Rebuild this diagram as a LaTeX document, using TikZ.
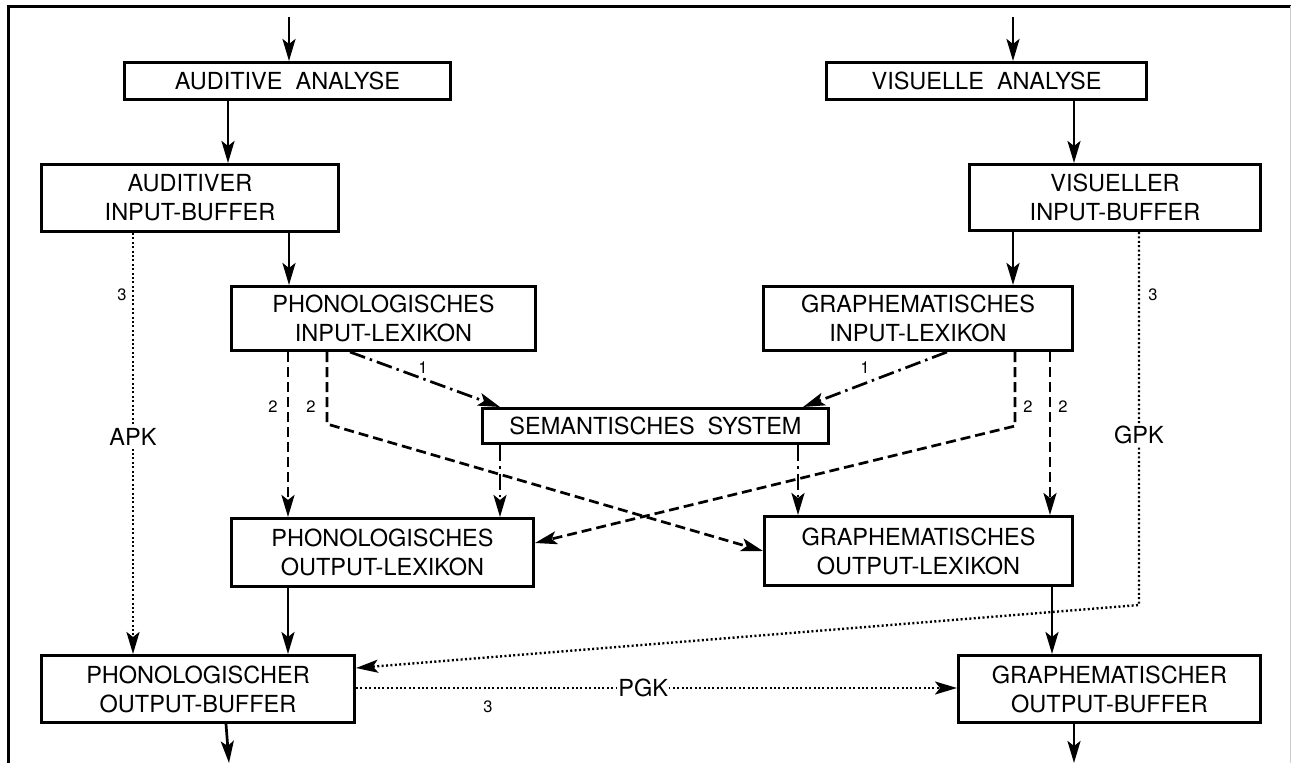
\documentclass[tikz,border=0pt]{standalone}
\usepackage{fontspec}
\setmainfont{TeX Gyre Heros}
\usetikzlibrary{arrows.meta}
\begin{document}
\begin{tikzpicture}[x=1pt,y=-1pt,
  box/.style={draw, line width=3pt, inner sep=0pt, align=center, font=\fontsize{23.5}{29}\selectfont},
  tip/.style={-{Stealth[length=22pt,width=13pt,inset=5pt]}},
  arr/.style={line width=2.7pt, tip},
  dsh/.style={line width=2.7pt, dash pattern=on 10pt off 5pt, tip},
  dd/.style={line width=2.7pt, dash pattern=on 16pt off 5pt on 2.5pt off 5pt, tip},
  dot/.style={line width=2.4pt, dash pattern=on 2pt off 2.4pt, tip},
  lbl/.style={inner sep=0pt, font=\fontsize{16.5}{19}\selectfont},
  klbl/.style={fill=white, inner sep=2pt, font=\fontsize{23.5}{28}\selectfont}
]
\useasboundingbox (0,0) rectangle (1291,763);
\fill[white] (0,0) rectangle (1291,763);
% frame
\draw[line width=3pt] (8,763) -- (8,6) -- (1291,6);
\draw[black!20, line width=1pt] (1290,6) -- (1290,763);

% boxes
\node[box, minimum width=326pt, minimum height=37pt] (aa) at (287.5,81) {AUDITIVE~~ANALYSE};
\node[box, minimum width=320pt, minimum height=37pt] (va) at (986.5,81) {VISUELLE~~ANALYSE};
\node[box, minimum width=297pt, minimum height=67pt] (aib) at (190,198) {AUDITIVER\\INPUT-BUFFER};
\node[box, minimum width=291pt, minimum height=66pt] (vib) at (1115,197.5) {VISUELLER\\INPUT-BUFFER};
\node[box, minimum width=304pt, minimum height=64pt] (pil) at (383.5,318.5) {PHONOLOGISCHES\\INPUT-LEXIKON};
\node[box, minimum width=309pt, minimum height=64pt] (gil) at (918,318.5) {GRAPHEMATISCHES\\INPUT-LEXIKON};
\node[box, minimum width=346pt, minimum height=35pt] (sem) at (655.5,426) {SEMANTISCHES~~SYSTEM};
\node[box, minimum width=302pt, minimum height=68pt] (pol) at (382.5,552.5) {PHONOLOGISCHES\\OUTPUT-LEXIKON};
\node[box, minimum width=308pt, minimum height=69pt] (gol) at (918.5,551) {GRAPHEMATISCHES\\OUTPUT-LEXIKON};
\node[box, minimum width=313pt, minimum height=67pt] (pob) at (198,689) {PHONOLOGISCHER\\OUTPUT-BUFFER};
\node[box, minimum width=302pt, minimum height=67pt] (gob) at (1109.5,689) {GRAPHEMATISCHER\\OUTPUT-BUFFER};

% solid arrows
\coordinate (inA) at (289,17);
\coordinate (inV) at (1013,17);
\coordinate (outP) at (229,763);
\coordinate (outG) at (1074,763);
\draw[arr] (inA) -- (inA |- aa.north);
\draw[arr] (inV) -- (inV |- va.north);
\draw[arr] (228,0 |- aa.south) -- (228,0 |- aib.north);
\draw[arr] (1074,0 |- va.south) -- (1074,0 |- vib.north);
\draw[arr] (289,0 |- aib.south) -- (289,0 |- pil.north);
\draw[arr] (1013,0 |- vib.south) -- (1013,0 |- gil.north);
\draw[arr] (288,0 |- pol.south) -- (288,0 |- pob.north);
\draw[arr] (1052,0 |- gol.south) -- (1052,0 |- gob.north);
\draw[arr] (226,0 |- pob.south) -- (outP);
\draw[arr] (1074,0 |- gob.south) -- (outG);

% dash-dot (1)
\draw[dd] (350,0 |- pil.south) -- (500,0 |- sem.north);
\draw[dd] (947,0 |- gil.south) -- (803,0 |- sem.north);
\draw[dd] (500,0 |- sem.south) -- (500,0 |- pol.north);
\draw[dd] (798,0 |- sem.south) -- (798,0 |- gol.north);
\node[lbl] (l1a) at (423,368) {1};
\node[lbl] (l1b) at (865,368) {1};

% dashed (2)
\draw[dsh] (288,0 |- pil.south) -- (288,0 |- pol.north);
\draw[dsh] (327,0 |- pil.south) -- (327,424) -- (gol.west);
\draw[dsh] (1015,0 |- gil.south) -- (1015,426) -- (pol.east |- 0,543);
\draw[dsh] (1050,0 |- gil.south) -- (1050,0 |- gol.north);
\node[lbl] (l2a) at (273,407) {2};
\node[lbl] (l2b) at (311,407) {2};
\node[lbl] (l2c) at (1028,407) {2};
\node[lbl] (l2d) at (1063,407) {2};

% dotted (3)
\draw[dot] (133,0 |- aib.south) -- node[klbl, pos=0.485] (apk) {APK} (133,0 |- pob.north);
\draw[dot] (1139,0 |- vib.south) -- node[klbl, pos=0.544] (gpk) {GPK} (1139,605) -- (pob.east |- 0,668);
\draw[dot] (pob.east |- 0,688) -- node[klbl, pos=0.478, inner sep=1pt] (pgk) {PGK} (gob.west |- 0,688);
\node[lbl] (l3a) at (122,295) {3};
\node[lbl] (l3b) at (1153,295) {3};
\node[lbl] (l3c) at (488,707) {3};
\end{tikzpicture}
\end{document}
